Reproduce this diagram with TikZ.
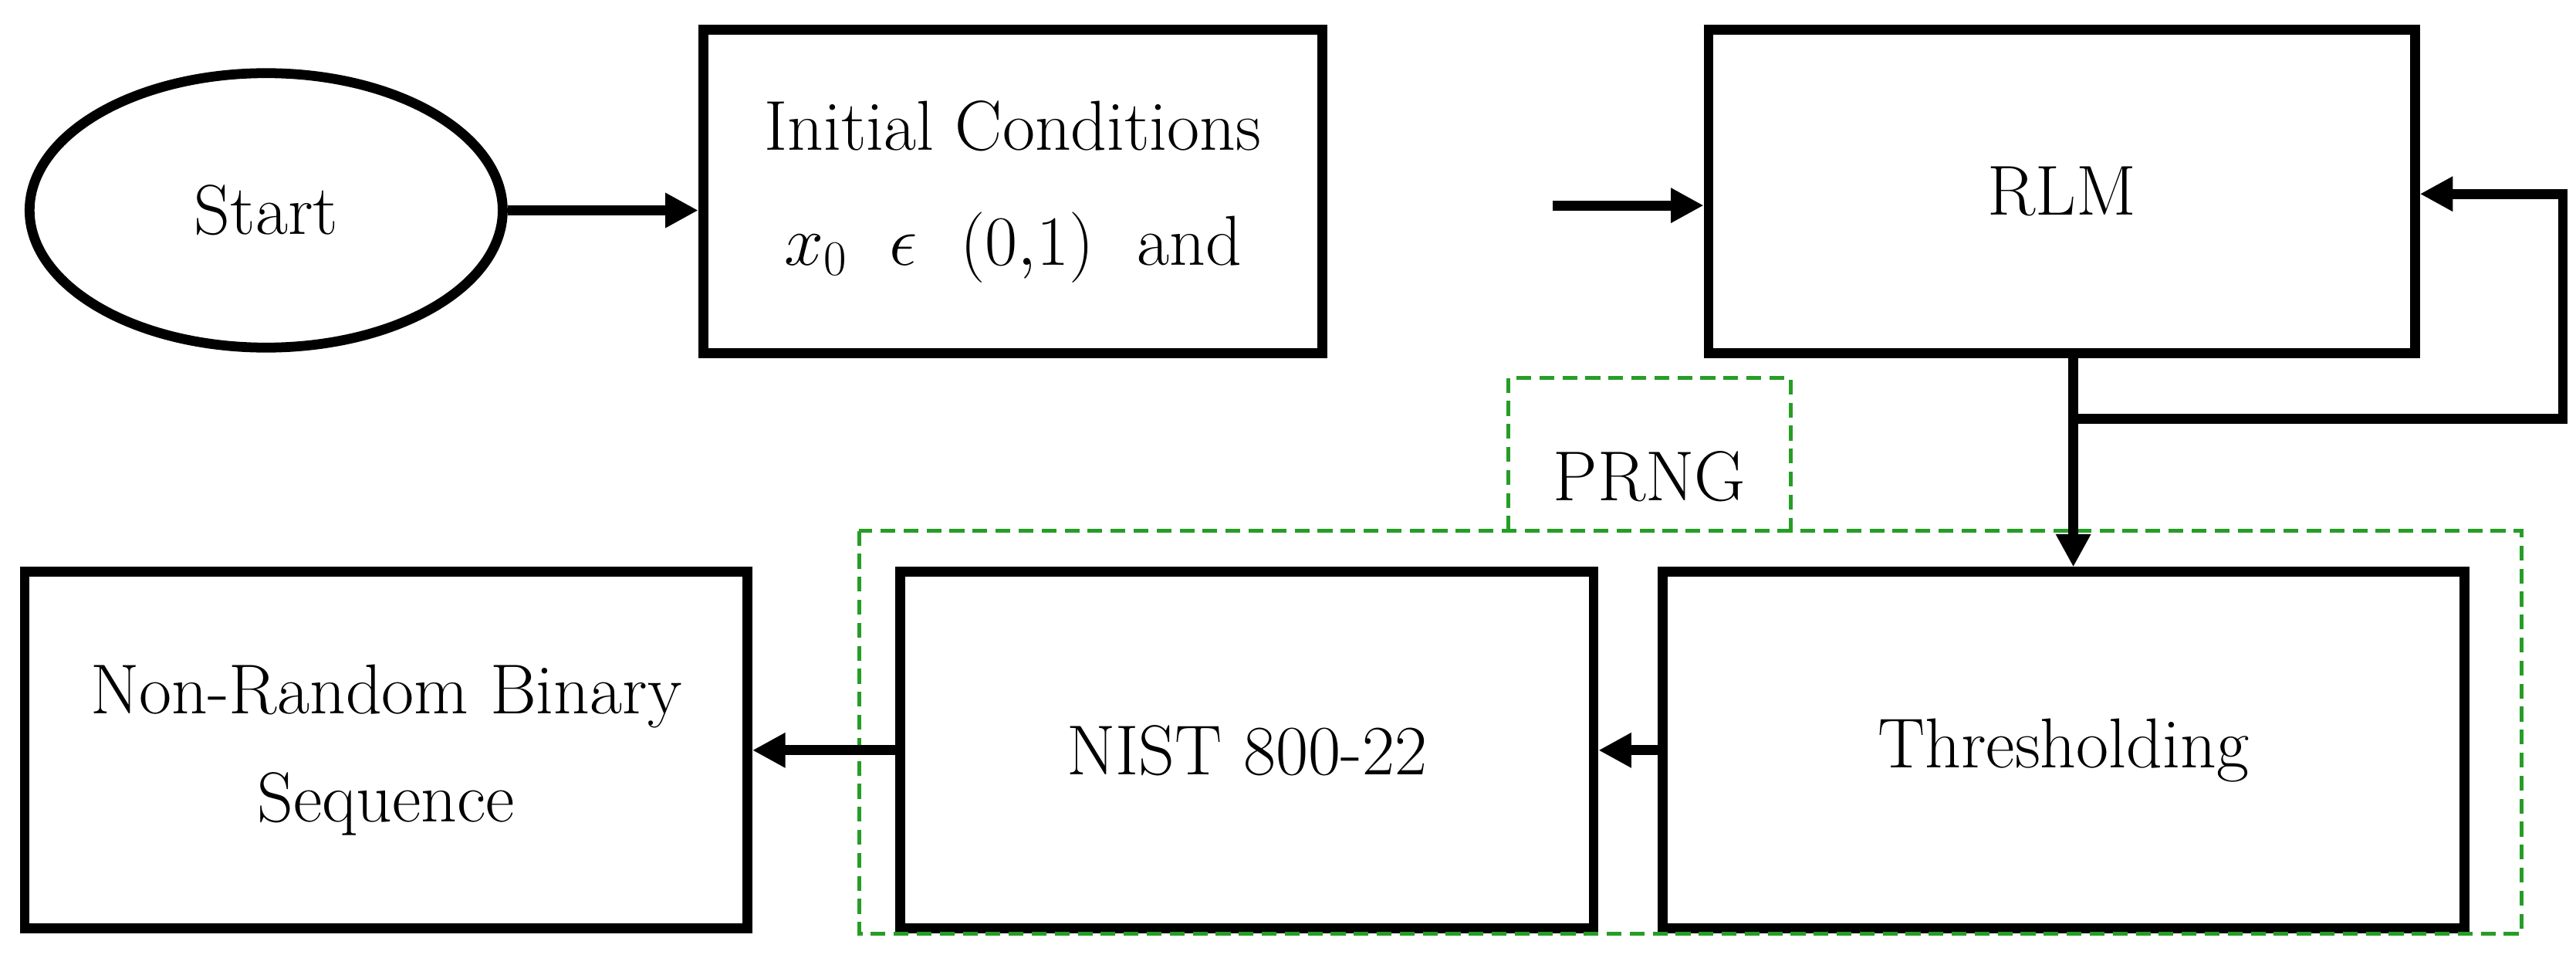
\documentclass[tikz,border=0pt]{standalone}
\usepackage{fix-cm}
\usepackage{tikz}
\usetikzlibrary{calc,arrows.meta,shapes.geometric}

\begin{document}
\begin{tikzpicture}[x=1pt,y=-1pt]
    \tikzstyle{every node}=[font=\fontsize{43}{52}\selectfont, align=center]
    \tikzstyle{blk}=[draw, line width=6pt, minimum height=197pt, inner sep=0]
    \tikzstyle{arr}=[line width=6pt, -{Triangle[length=20pt,width=20pt]}]
    \tikzstyle{grn}=[draw=green!55!black!85, line width=2.5pt, dash pattern=on 9pt off 5pt]
    \useasboundingbox (0,0) rectangle (1568,587);
    % top row
    \node[ellipse, draw, line width=6pt, minimum width=288pt, minimum height=167pt] (ST) at (162,128) {Start};
    \node[blk, minimum width=377pt] (IC) at (616.5,116.5) {Initial Conditions\\[18pt] $x_0$ \ $\epsilon$ \ $(0{,}1)$ \ and};
    \node[blk, minimum width=430pt] (RLM) at (1255,116.5) {RLM};
    % bottom row
    \node[blk, minimum width=488pt, minimum height=217pt] (TH) at (1256,456.5) {Thresholding};
    \node[blk, minimum width=422pt, minimum height=217pt] (NIST) at (759,456.5) {NIST 800-22};
    \node[blk, minimum width=440pt, minimum height=217pt] (NRB) at (235,456.5) {Non-Random Binary\\[14pt]Sequence};
    % PRNG frame
    \draw[grn] (523,323) rectangle (1535,568);
    \draw[grn] (918,323) -- (918,230) -- (1090,230) -- (1090,323);
    \node (PRNG) at (1004,290) {PRNG};
    % connectors
    \coordinate (IN) at (945,125);
    \coordinate (J) at (1262,255);
    \coordinate (FB) at (1560,255);
    \draw[arr] (ST.east) -- (ST.east -| IC.west);
    \draw[arr] (IN) -- (IN -| RLM.west);
    \draw[line width=6pt] (RLM.south -| J) -- (J) -- (FB) -- (FB |- 0,118);
    \draw[arr] ($(FB |- 0,118)+(3,0)$) -- (RLM.east |- 0,118);
    \draw[arr] (J) -- (J |- TH.north);
    \draw[arr] (TH.west) -- (NIST.east);
    \draw[arr] (NIST.west) -- (NRB.east);
\end{tikzpicture}
\end{document}
